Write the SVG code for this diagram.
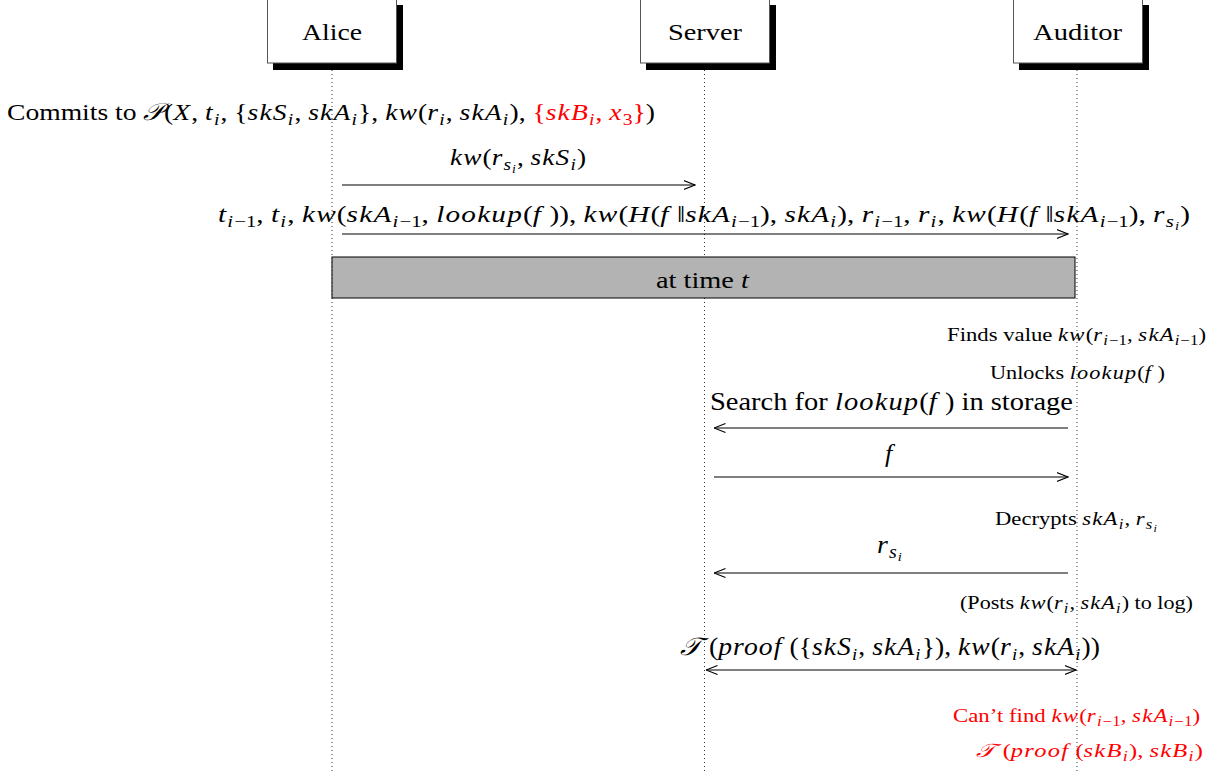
<svg xmlns="http://www.w3.org/2000/svg" width="1223" height="773" viewBox="0 0 1223 773">
<style>
text{font-family:"Liberation Serif","Times New Roman",serif;fill:#000}
.i{font-style:italic;letter-spacing:1px}
.red{fill:#ff0000}
.red tspan{fill:#ff0000}
.life{stroke:#333;stroke-width:1;stroke-dasharray:1 3}
.msg{stroke:#000;stroke-width:1.1;fill:none}
.box{fill:#fff;stroke:#555;stroke-width:1}
.shadow{fill:#000}
.lbl{font-size:23px}
</style>
<defs>
<marker id="ah" viewBox="0 0 12 10" refX="11.5" refY="5" markerWidth="12" markerHeight="10" markerUnits="userSpaceOnUse" orient="auto-start-reverse">
<path d="M0,0.5 L11.5,5 L0,9.5" fill="none" stroke="#000" stroke-width="1.1"/>
</marker>
</defs>
<rect width="1223" height="773" fill="#fff"/>

<g id="lifelines">
<line class="life" x1="332" y1="70" x2="332" y2="773"/>
<line class="life" x1="704.5" y1="70" x2="704.5" y2="773"/>
<line class="life" x1="1077" y1="70" x2="1077" y2="773"/>
</g>

<g id="alice">
<rect class="shadow" x="273" y="5" width="130" height="65"/>
<rect class="box" x="267.5" y="-1" width="129" height="64"/>
<text class="lbl" x="302" y="40" textLength="60" lengthAdjust="spacingAndGlyphs">Alice</text>
</g>
<g id="server">
<rect class="shadow" x="646" y="5" width="130" height="65"/>
<rect class="box" x="640.5" y="-1" width="129" height="64"/>
<text class="lbl" x="668" y="40" textLength="74" lengthAdjust="spacingAndGlyphs">Server</text>
</g>
<g id="auditor">
<rect class="shadow" x="1019" y="5" width="130" height="65"/>
<rect class="box" x="1013.5" y="-1" width="129" height="64"/>
<text class="lbl" x="1033" y="40" textLength="89" lengthAdjust="spacingAndGlyphs">Auditor</text>
</g>

<g id="commit">
<text x="7" y="120" font-size="24" textLength="648" lengthAdjust="spacingAndGlyphs">Commits to <tspan class="i">𝒫</tspan>(<tspan class="i">X</tspan>, <tspan class="i">t</tspan><tspan class="i" font-size="17" dy="5">i</tspan><tspan dy="-5">, {</tspan><tspan class="i">skS</tspan><tspan class="i" font-size="17" dy="5">i</tspan><tspan dy="-5">, </tspan><tspan class="i">skA</tspan><tspan class="i" font-size="17" dy="5">i</tspan><tspan dy="-5">}, </tspan><tspan class="i">kw</tspan>(<tspan class="i">r</tspan><tspan class="i" font-size="17" dy="5">i</tspan><tspan dy="-5">, </tspan><tspan class="i">skA</tspan><tspan class="i" font-size="17" dy="5">i</tspan><tspan dy="-5">), </tspan><tspan class="red">{</tspan><tspan class="i red">skB</tspan><tspan class="i red" font-size="17" dy="5">i</tspan><tspan class="red" dy="-5">, </tspan><tspan class="i red">x</tspan><tspan class="red" font-size="17" dy="5">3</tspan><tspan class="red" dy="-5">}</tspan>)</text>
</g>

<g id="timebox">
<rect x="332" y="257" width="743" height="41" fill="#b3b3b3" stroke="#000" stroke-width="1"/>
<text x="656" y="288" font-size="24" textLength="94" lengthAdjust="spacingAndGlyphs">at time <tspan class="i">t</tspan></text>
</g>

<g id="notes">
<text x="947" y="341" font-size="19" textLength="259" lengthAdjust="spacingAndGlyphs">Finds value <tspan class="i">kw</tspan>(<tspan class="i">r</tspan><tspan font-size="14" dy="4"><tspan class="i">i</tspan>−1</tspan><tspan dy="-4">, </tspan><tspan class="i">skA</tspan><tspan font-size="14" dy="4"><tspan class="i">i</tspan>−1</tspan><tspan dy="-4">)</tspan></text>
<text x="990" y="379" font-size="19" textLength="175" lengthAdjust="spacingAndGlyphs">Unlocks <tspan class="i">lookup</tspan>(<tspan class="i">f</tspan> )</text>
<text x="995" y="525" font-size="19" textLength="163" lengthAdjust="spacingAndGlyphs">Decrypts <tspan class="i">skA</tspan><tspan class="i" font-size="14" dy="4">i</tspan><tspan dy="-4">,  </tspan><tspan class="i">r</tspan><tspan class="i" font-size="14" dy="4">s</tspan><tspan class="i" font-size="10" dy="3">i</tspan></text>
<text x="960" y="609" font-size="19" textLength="233" lengthAdjust="spacingAndGlyphs">(Posts <tspan class="i">kw</tspan>(<tspan class="i">r</tspan><tspan class="i" font-size="14" dy="4">i</tspan><tspan dy="-4">, </tspan><tspan class="i">skA</tspan><tspan class="i" font-size="14" dy="4">i</tspan><tspan dy="-4">) to log)</tspan></text>
<text class="red" x="953" y="722" font-size="19" textLength="247" lengthAdjust="spacingAndGlyphs">Can’t find <tspan class="i">kw</tspan>(<tspan class="i">r</tspan><tspan font-size="14" dy="4"><tspan class="i">i</tspan>−1</tspan><tspan dy="-4">, </tspan><tspan class="i">skA</tspan><tspan font-size="14" dy="4"><tspan class="i">i</tspan>−1</tspan><tspan dy="-4">)</tspan></text>
<text class="red" x="976" y="757" font-size="19" textLength="227" lengthAdjust="spacingAndGlyphs"><tspan class="i">𝒯</tspan> (<tspan class="i">proof</tspan> (<tspan class="i">skB</tspan><tspan class="i" font-size="14" dy="4">i</tspan><tspan dy="-4">), </tspan><tspan class="i">skB</tspan><tspan class="i" font-size="14" dy="4">i</tspan><tspan dy="-4">)</tspan></text>
</g>

<g id="connectors">
<line class="msg" x1="342" y1="185" x2="695" y2="185" marker-end="url(#ah)"/>
<line class="msg" x1="342" y1="234" x2="1068" y2="234" marker-end="url(#ah)"/>
<line class="msg" x1="1068" y1="428" x2="714" y2="428" marker-end="url(#ah)"/>
<line class="msg" x1="714" y1="477" x2="1068" y2="477" marker-end="url(#ah)"/>
<line class="msg" x1="1068" y1="573" x2="714" y2="573" marker-end="url(#ah)"/>
<line class="msg" x1="706" y1="670" x2="1076" y2="670" marker-start="url(#ah)" marker-end="url(#ah)"/>
</g>

<g id="labels">
<text x="450" y="165" font-size="24" textLength="136" lengthAdjust="spacingAndGlyphs"><tspan class="i">kw</tspan>(<tspan class="i">r</tspan><tspan class="i" font-size="17" dy="5">s</tspan><tspan class="i" font-size="12" dy="3">i</tspan><tspan dy="-8">, </tspan><tspan class="i">skS</tspan><tspan class="i" font-size="17" dy="5">i</tspan><tspan dy="-5">)</tspan></text>
<text x="218" y="222" font-size="24" textLength="972" lengthAdjust="spacingAndGlyphs"><tspan class="i">t</tspan><tspan font-size="17" dy="5"><tspan class="i">i</tspan>−1</tspan><tspan dy="-5">, </tspan><tspan class="i">t</tspan><tspan class="i" font-size="17" dy="5">i</tspan><tspan dy="-5">, </tspan><tspan class="i">kw</tspan>(<tspan class="i">skA</tspan><tspan font-size="17" dy="5"><tspan class="i">i</tspan>−1</tspan><tspan dy="-5">, </tspan><tspan class="i">lookup</tspan>(<tspan class="i">f</tspan> )), <tspan class="i">kw</tspan>(<tspan class="i">H</tspan>(<tspan class="i">f</tspan> ‖<tspan class="i">skA</tspan><tspan font-size="17" dy="5"><tspan class="i">i</tspan>−1</tspan><tspan dy="-5">), </tspan><tspan class="i">skA</tspan><tspan class="i" font-size="17" dy="5">i</tspan><tspan dy="-5">), </tspan><tspan class="i">r</tspan><tspan font-size="17" dy="5"><tspan class="i">i</tspan>−1</tspan><tspan dy="-5">, </tspan><tspan class="i">r</tspan><tspan class="i" font-size="17" dy="5">i</tspan><tspan dy="-5">, </tspan><tspan class="i">kw</tspan>(<tspan class="i">H</tspan>(<tspan class="i">f</tspan> ‖<tspan class="i">skA</tspan><tspan font-size="17" dy="5"><tspan class="i">i</tspan>−1</tspan><tspan dy="-5">), </tspan><tspan class="i">r</tspan><tspan class="i" font-size="17" dy="5">s</tspan><tspan class="i" font-size="12" dy="3">i</tspan><tspan dy="-8">)</tspan></text>
<text x="710" y="410" font-size="25" textLength="363" lengthAdjust="spacingAndGlyphs">Search for <tspan class="i">lookup</tspan>(<tspan class="i">f</tspan> ) in storage</text>
<text x="885" y="462" font-size="26" class="i">f</text>
<text x="877" y="553" font-size="25" textLength="26" lengthAdjust="spacingAndGlyphs"><tspan class="i">r</tspan><tspan class="i" font-size="18" dy="5">s</tspan><tspan class="i" font-size="13" dy="3">i</tspan></text>
<text x="680" y="655" font-size="25" textLength="420" lengthAdjust="spacingAndGlyphs"><tspan class="i">𝒯</tspan> (<tspan class="i">proof</tspan> ({<tspan class="i">skS</tspan><tspan class="i" font-size="17" dy="5">i</tspan><tspan dy="-5">, </tspan><tspan class="i">skA</tspan><tspan class="i" font-size="17" dy="5">i</tspan><tspan dy="-5">}), </tspan><tspan class="i">kw</tspan>(<tspan class="i">r</tspan><tspan class="i" font-size="17" dy="5">i</tspan><tspan dy="-5">, </tspan><tspan class="i">skA</tspan><tspan class="i" font-size="17" dy="5">i</tspan><tspan dy="-5">))</tspan></text>
</g>
</svg>
